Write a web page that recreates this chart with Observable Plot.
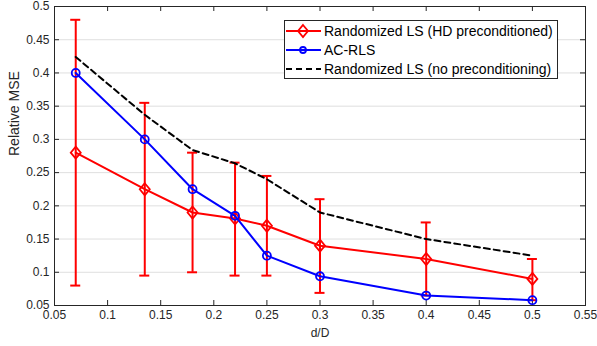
<!DOCTYPE html>
<html><head><meta charset="utf-8">
<script src="https://cdn.jsdelivr.net/npm/d3@7"></script>
<script src="https://cdn.jsdelivr.net/npm/@observablehq/plot@0.6"></script>
<style>
body{margin:0;background:#fff;}
#wrap{position:relative;width:597px;height:346px;font-family:"Liberation Sans",Arial,sans-serif;}
#legend{position:absolute;left:284px;top:20px;width:272px;height:57px;border:1px solid #262626;background:#fff;}
.row{position:absolute;left:0;height:18px;display:flex;align-items:center;font-size:14px;color:#000;white-space:nowrap;}
.row svg{display:block;margin-right:2px;}
</style></head><body><div id="wrap"></div>
<script>
const xValues = [0.07, 0.135, 0.18, 0.22, 0.25, 0.3, 0.4, 0.5];
const hdMean  = [0.28, 0.225, 0.19, 0.181, 0.17, 0.14, 0.12, 0.09];
const hdLow   = [0.08, 0.095, 0.1, 0.095, 0.095, 0.069, 0.065, 0.058];
const hdHigh  = [0.48, 0.355, 0.28, 0.265, 0.245, 0.21, 0.175, 0.12];
const acrls   = [0.4, 0.3, 0.225, 0.185, 0.125, 0.094, 0.065, 0.058];
const noPre   = [0.424, 0.337, 0.284, 0.264, 0.24, 0.19, 0.15, 0.125];
const seriesNames = ["Randomized LS (HD preconditioned)", "AC-RLS", "Randomized LS (no preconditioning)"];
const seriesColors = ["#ff0000", "#0000ff", "#000000"];
const xTicks = [0.05, 0.1, 0.15, 0.2, 0.25, 0.3, 0.35, 0.4, 0.45, 0.5, 0.55];
const yTicks = [0.05, 0.1, 0.15, 0.2, 0.25, 0.3, 0.35, 0.4, 0.45, 0.5];
const xDomain = [0.05, 0.55];
const yDomain = [0.05, 0.5];
const xLabel = "d/D";
const yLabel = "Relative MSE";

const rows = xValues.map((x, i) => ({x, hd: hdMean[i], lo: hdLow[i], hi: hdHigh[i], ac: acrls[i], np: noPre[i]}));
const fmt = d => String(+d.toFixed(2));
const diamond = {draw(ctx, size) {
  const r = Math.sqrt(size / Math.PI);
  ctx.moveTo(0, -r * 1.2); ctx.lineTo(r, 0); ctx.lineTo(0, r * 1.2); ctx.lineTo(-r, 0); ctx.closePath();
}};
const axisColor = "#262626";

const chart = Plot.plot({
  width: 597, height: 346,
  marginLeft: 54, marginRight: 12, marginTop: 6, marginBottom: 41,
  x: {domain: xDomain},
  y: {domain: yDomain},
  style: {fontFamily: '"Liberation Sans", Arial, sans-serif', fontSize: "12px", color: axisColor, background: "white"},
  marks: [
    Plot.gridY(yTicks, {stroke: axisColor, strokeOpacity: 0.15, strokeWidth: 1}),
    Plot.axisX(xTicks, {tickSize: 0, tickPadding: 5, tickFormat: fmt, label: null}),
    Plot.axisY(yTicks, {tickSize: 0, tickPadding: 5, tickFormat: fmt, label: null}),
    Plot.ruleX(xTicks, {x: d => d, y1: yDomain[0], y2: yDomain[0], insetTop: -5, stroke: axisColor}),
    Plot.ruleX(xTicks, {x: d => d, y1: yDomain[1], y2: yDomain[1], insetBottom: -5, stroke: axisColor}),
    Plot.ruleY(yTicks, {y: d => d, x1: xDomain[0], x2: xDomain[0], insetRight: -5, stroke: axisColor}),
    Plot.ruleY(yTicks, {y: d => d, x1: xDomain[1], x2: xDomain[1], insetLeft: -5, stroke: axisColor}),
    Plot.frame({stroke: axisColor}),
    Plot.text([yLabel], {text: d => d, frameAnchor: "left", dx: -40, rotate: -90, fontSize: 14, fill: axisColor}),
    Plot.text([xLabel], {text: d => d, frameAnchor: "bottom", dy: 31, fontSize: 12, fill: axisColor}),
    // HD preconditioned with error bars
    Plot.ruleX(rows, {x: "x", y1: "lo", y2: "hi", stroke: seriesColors[0], strokeWidth: 2}),
    Plot.ruleY(rows, {y: "hi", x1: "x", x2: "x", insetLeft: -5, insetRight: -5, stroke: seriesColors[0], strokeWidth: 2}),
    Plot.ruleY(rows, {y: "lo", x1: "x", x2: "x", insetLeft: -5, insetRight: -5, stroke: seriesColors[0], strokeWidth: 2}),
    Plot.line(rows, {x: "x", y: "hd", stroke: seriesColors[0], strokeWidth: 2}),
    Plot.dot(rows, {x: "x", y: "hd", symbol: diamond, r: 5, stroke: seriesColors[0], strokeWidth: 1.8, fill: "none"}),
    // AC-RLS
    Plot.line(rows, {x: "x", y: "ac", stroke: seriesColors[1], strokeWidth: 2}),
    Plot.dot(rows, {x: "x", y: "ac", r: 4, stroke: seriesColors[1], strokeWidth: 1.8, fill: "none"}),
    // no preconditioning
    Plot.line(rows, {x: "x", y: "np", stroke: seriesColors[2], strokeWidth: 2, strokeDasharray: "6,4"})
  ]
});

const wrap = document.getElementById("wrap");
wrap.appendChild(chart);

const legend = document.createElement("div");
legend.id = "legend";
const rowTops = [1, 20.3, 39.3];
seriesNames.forEach((name, i) => {
  const row = document.createElement("div");
  row.className = "row";
  row.style.top = rowTops[i] + "px";
  const c = seriesColors[i];
  let marker = "";
  if (i === 0) marker = `<path d="M18,3 L23,9 L18,15 L13,9 Z" fill="none" stroke="${c}" stroke-width="1.8"/>`;
  if (i === 1) marker = `<circle cx="18" cy="9" r="3" fill="none" stroke="${c}" stroke-width="1.8"/>`;
  const dash = i === 2 ? ' stroke-dasharray="6,4"' : '';
  row.innerHTML = `<svg width="37" height="18"><line x1="1" y1="9" x2="36" y2="9" stroke="${c}" stroke-width="2"${dash}/>${marker}</svg><span>${name}</span>`;
  legend.appendChild(row);
});
wrap.appendChild(legend);
</script></body></html>
